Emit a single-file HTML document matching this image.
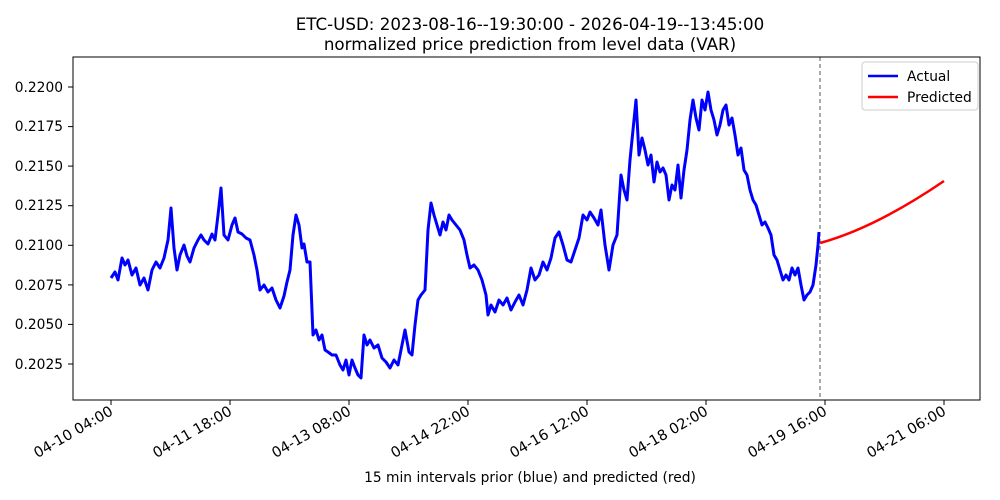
<!DOCTYPE html>
<html><head><meta charset="utf-8"><style>body{margin:0;background:#fff}svg{display:block}text{font-family:"DejaVu Sans","Liberation Sans",sans-serif;fill:#000}</style></head><body>
<svg width="1000" height="500" viewBox="0 0 1000 500">
<text x="530" y="30" font-size="16.7" text-anchor="middle">ETC-USD: 2023-08-16--19:30:00 - 2026-04-19--13:45:00</text>
<text x="530" y="50" font-size="16.7" text-anchor="middle">normalized price prediction from level data (VAR)</text>
<g font-size="13.8" text-anchor="end">
<text x="63" y="92">0.2200</text><text x="63" y="131">0.2175</text><text x="63" y="171">0.2150</text><text x="63" y="210">0.2125</text><text x="63" y="250">0.2100</text><text x="63" y="290">0.2075</text><text x="63" y="329">0.2050</text><text x="63" y="369">0.2025</text>
</g>
<g stroke="#000" stroke-width="1">
<line x1="68" y1="87" x2="73" y2="87"/><line x1="68" y1="126.6" x2="73" y2="126.6"/><line x1="68" y1="166.1" x2="73" y2="166.1"/><line x1="68" y1="205.7" x2="73" y2="205.7"/><line x1="68" y1="245.3" x2="73" y2="245.3"/><line x1="68" y1="284.9" x2="73" y2="284.9"/><line x1="68" y1="324.4" x2="73" y2="324.4"/><line x1="68" y1="364" x2="73" y2="364"/>
<line x1="111" y1="400" x2="111" y2="405"/><line x1="230" y1="400" x2="230" y2="405"/><line x1="349" y1="400" x2="349" y2="405"/><line x1="468" y1="400" x2="468" y2="405"/><line x1="587" y1="400" x2="587" y2="405"/><line x1="706" y1="400" x2="706" y2="405"/><line x1="825" y1="400" x2="825" y2="405"/><line x1="944" y1="400" x2="944" y2="405"/>
</g>
<g font-size="14.5" text-anchor="end">
<text transform="translate(114,414) rotate(-30)">04-10 04:00</text>
<text transform="translate(233,414) rotate(-30)">04-11 18:00</text>
<text transform="translate(352,414) rotate(-30)">04-13 08:00</text>
<text transform="translate(471,414) rotate(-30)">04-14 22:00</text>
<text transform="translate(590,414) rotate(-30)">04-16 12:00</text>
<text transform="translate(709,414) rotate(-30)">04-18 02:00</text>
<text transform="translate(828,414) rotate(-30)">04-19 16:00</text>
<text transform="translate(947,414) rotate(-30)">04-21 06:00</text>
</g>
<text x="530" y="482" font-size="13.8" text-anchor="middle">15 min intervals prior (blue) and predicted (red)</text>
<line x1="820" y1="57" x2="820" y2="400" stroke="#555" stroke-width="1" stroke-dasharray="4,3"/>
<polyline fill="none" stroke="#0000ff" stroke-width="3" stroke-linejoin="round" points="111,278 115,272 118,280 122,258 125,265 128,260 132,275 136,268 140,285 144,278 148,290 152,270 156,262 160,268 164,258 168,240 171,208 174,248 177,270 180,255 184,245 187,256 190,262 194,248 198,240 201,235 204,240 208,244 212,234 215,240 218,215 221,188 224,235 228,240 232,225 235,218 238,232 242,234 246,238 250,240 254,255 257,270 260,290 264,285 268,292 272,288 276,300 280,308 284,296 287,282 290,270 293,235 296,215 299,225 302,248 304,244 307,262 310,262 313,335 316,330 319,340 322,335 325,350 328,352 332,355 336,355 340,365 343,370 346,360 349,375 352,360 355,368 358,375 361,378 364,335 367,345 370,340 374,348 378,345 382,358 386,362 390,368 394,360 398,365 402,345 405,330 409,352 412,355 415,325 418,300 421,295 425,290 428,230 431,203 434,215 437,225 440,235 443,222 446,230 449,215 452,220 456,225 460,230 464,240 467,255 470,268 474,265 478,270 482,280 486,295 488,315 491,305 495,312 499,300 503,305 507,298 511,310 515,302 519,295 523,305 527,290 531,268 535,280 539,275 543,262 547,270 551,258 555,238 559,232 563,245 567,260 571,262 575,250 579,238 583,215 587,220 590,212 594,218 598,225 601,210 605,245 609,270 613,245 617,235 621,175 624,190 627,200 630,160 633,130 636,100 639,155 642,138 645,150 648,165 651,155 654,182 657,162 660,172 663,168 666,175 669,200 672,185 675,190 678,165 681,198 684,170 687,150 690,120 693,100 696,118 699,130 702,100 705,110 708,92 711,110 714,120 717,135 720,125 723,110 726,105 729,125 732,118 735,135 738,155 741,148 744,170 747,175 750,190 753,200 756,205 759,215 762,225 765,222 768,228 771,235 774,255 777,260 780,270 783,280 786,275 789,280 792,268 795,275 798,268 801,285 804,300 807,295 810,292 813,285 816,265 818,245 819,232"/>
<path d="M820,243 Q875,228 944,181" fill="none" stroke="#ff0000" stroke-width="2.5"/>
<rect x="73" y="57" width="907" height="343" fill="none" stroke="#000" stroke-width="1"/>
<rect x="862" y="62" width="116" height="48" fill="#fff" stroke="#ccc" rx="3"/>
<line x1="868" y1="76" x2="898" y2="76" stroke="#0000ff" stroke-width="2.5"/>
<text x="907" y="81" font-size="13.8">Actual</text>
<line x1="868" y1="97" x2="898" y2="97" stroke="#ff0000" stroke-width="2.5"/>
<text x="907" y="102" font-size="13.8">Predicted</text>
</svg>
</body></html>
